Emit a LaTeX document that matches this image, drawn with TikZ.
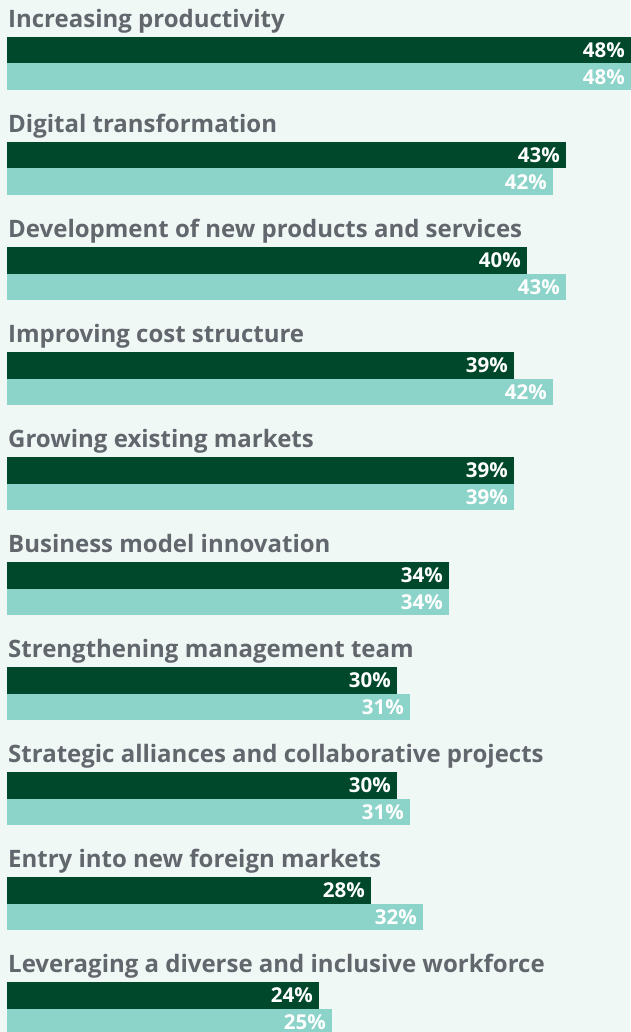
\documentclass[tikz,border=0pt]{standalone}
\usepackage{fontspec}
\setmainfont{Open Sans}
\usepackage{xcolor}
\usetikzlibrary{positioning}

\definecolor{bgmint}{HTML}{F0F8F5}
\definecolor{darkgreen}{HTML}{00482C}
\definecolor{lightteal}{HTML}{8CD3C9}
\definecolor{labelgrey}{HTML}{62666D}

\begin{document}
\begin{tikzpicture}[x=1pt, y=-1pt,
    cat/.style={anchor=base west, inner sep=0pt, text=labelgrey, font=\fontsize{24}{28}\selectfont\bfseries},
    bar/.style={anchor=north west, inner sep=0pt, outer sep=0pt, minimum height=26.5pt},
    val/.style={anchor=base east, inner sep=0pt, text=white, font=\fontsize{20.5}{24}\selectfont\bfseries}]
    \fill[bgmint] (0,0) rectangle (630,1032);
    \useasboundingbox (0,0) rectangle (630,1032);
    % one group per answer: label, then this year and last year
    \foreach \name/\a/\b [count=\i from 0] in {
        Increasing productivity/48/48,
        Digital transformation/43/42,
        Development of new products and services/40/43,
        Improving cost structure/39/42,
        Growing existing markets/39/39,
        Business model innovation/34/34,
        Strengthening management team/30/31,
        Strategic alliances and collaborative projects/30/31,
        Entry into new foreign markets/28/32,
        Leveraging a diverse and inclusive workforce/24/25} {
        \node[cat] (lab\i) at (8, 27.5+105*\i) {\name};
        \node[bar, fill=darkgreen, minimum width=13*\a pt] (dk\i) at (7, 37+105*\i) {};
        \node[bar, fill=lightteal, minimum width=13*\b pt, below=0pt of dk\i.south west, anchor=north west] (lt\i) {};
        \node[val] at ([xshift=-6pt, yshift=-7.5pt]dk\i.east) {\a\%};
        \node[val] at ([xshift=-6pt, yshift=-7.5pt]lt\i.east) {\b\%};
    }
\end{tikzpicture}
\end{document}
